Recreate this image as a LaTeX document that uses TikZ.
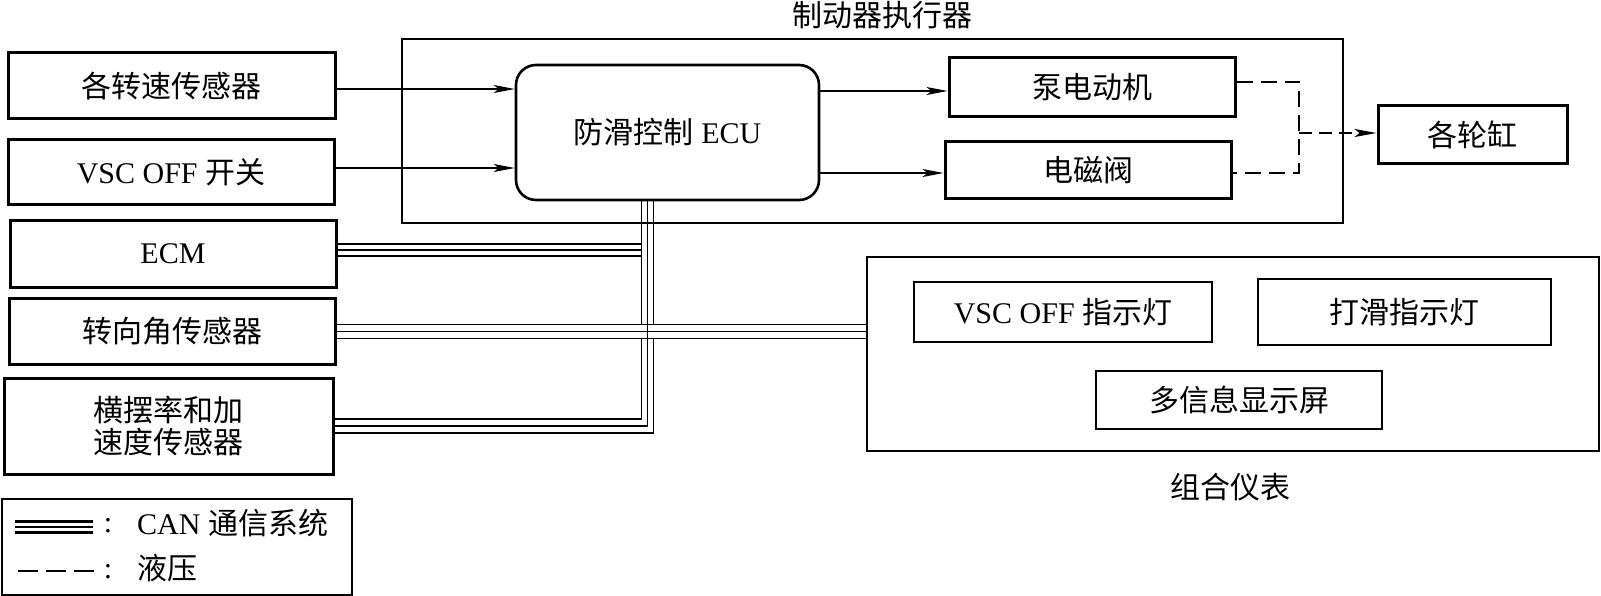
\documentclass[tikz,border=0pt]{standalone}
\usepackage{fontspec}
\setmainfont{Liberation Serif}
\newfontfamily\cjk{Noto Sans CJK SC}
\usetikzlibrary{arrows.meta,calc}
\newcommand\dfont{\fontsize{30}{32}\selectfont}
\begin{document}
\begin{tikzpicture}[x=1pt,y=-1pt,
  box/.style={draw, line width=3pt, rectangle, inner sep=0pt, font=\dfont, align=center},
  inbox/.style={draw, line width=2.6pt, rectangle, inner sep=0pt, font=\dfont},
  frame/.style={draw, line width=1.8pt, rectangle, inner sep=0pt},
  lbl/.style={font=\dfont, inner sep=0pt},
  can/.style={line width=1.8pt},
  arr/.style={line width=1.3pt, -{Stealth[length=21pt,width=8pt,inset=5pt]}},
  hyd/.style={line width=2pt, dash pattern=on 16pt off 8pt}]
\useasboundingbox (0,0) rectangle (1601,596);

% left column
\node[box, minimum width=327pt, minimum height=66pt] (s1) at (171.5,86) {{\cjk 各转速传感器}};
\node[box, minimum width=326pt, minimum height=65pt] (s2) at (171,172.5) {VSC OFF {\cjk 开关}};
\node[box, minimum width=326pt, minimum height=66pt] (ecm) at (173,254) {ECM};
\node[box, minimum width=326pt, minimum height=66pt] (steer) at (172,331.5) {{\cjk 转向角传感器}};
\node[box, minimum width=329pt, minimum height=96pt] (yaw) at (168.5,426) {{\cjk 横摆率和加}\\{\cjk 速度传感器}};

% actuator
\node[frame, minimum width=941pt, minimum height=184pt] (act) at (872.5,131) {};
\node[lbl] (actl) at (882,15) {{\cjk 制动器执行器}};
\node[draw, line width=2.6pt, rounded corners=20pt, inner sep=0pt, font=\dfont,
      minimum width=303pt, minimum height=135pt] (ecu) at (667.5,132.5) {{\cjk 防滑控制} ECU};
\node[box, minimum width=286pt, minimum height=59pt] (pump) at (1092,87.5) {{\cjk 泵电动机}};
\node[box, minimum width=286pt, minimum height=57pt] (valve) at (1088,170.5) {{\cjk 电磁阀}};
\node[box, minimum width=189pt, minimum height=58pt] (wheel) at (1472.5,135) {{\cjk 各轮缸}};

% cluster
\node[draw, line width=2.4pt, rectangle, inner sep=0pt, minimum width=732pt, minimum height=194pt] (cl) at (1233,354) {};
\node[lbl] (cll) at (1230,487) {{\cjk 组合仪表}};
\node[inbox, minimum width=298pt, minimum height=60pt] (vscl) at (1063,312) {VSC OFF {\cjk 指示灯}};
\node[inbox, minimum width=293pt, minimum height=66pt] (slip) at (1404.5,312) {{\cjk 打滑指示灯}};
\node[inbox, minimum width=286pt, minimum height=58pt] (mid) at (1239,400) {{\cjk 多信息显示屏}};

% signal arrows
\draw[arr] ([yshift=-3pt]s1.east) -- ([yshift=-3pt]s1.east -| ecu.west);
\draw[arr] ([yshift=4.5pt]s2.east) -- ([yshift=4.5pt]s2.east -| ecu.west);
\draw[arr] ([yshift=-3.5pt]pump.west -| ecu.east) -- ([yshift=-3.5pt]pump.west);
\draw[arr] ([yshift=-2.5pt]valve.west -| ecu.east) -- ([yshift=-2.5pt]valve.west);

% hydraulic
\coordinate (hj) at (1299,133);
\draw[hyd] ([yshift=5.5pt]pump.east) -| (hj) |- ([yshift=-2.5pt]valve.east);
\draw[hyd, dash pattern=on 13pt off 7pt, -{Stealth[length=22pt,width=8pt,inset=5pt]}] (hj) -- (hj -| wheel.west);

% CAN bus
\coordinate (busL) at ([xshift=-26pt]ecu.south);
\coordinate (busM) at ([xshift=-20pt]ecu.south);
\coordinate (busR) at ([xshift=-14pt]ecu.south);
% ECM
\draw[can] ([yshift=10pt]ecm.east) -- ([yshift=10pt]ecm.east -| busL);
\draw[can,line width=2.1pt] ([yshift=4pt]ecm.east) -- ([yshift=4pt]ecm.east -| busL);
\draw[can] ([yshift=-2pt]ecm.east) -- ([yshift=-2pt]ecm.east -| busL);
% steering -> cluster
\draw[can] ([yshift=7pt]steer.east) -- ([yshift=7pt]steer.east -| cl.west);
\draw[can] (steer.east) -- (steer.east -| cl.west);
\draw[can] ([yshift=-7pt]steer.east) -- ([yshift=-7pt]steer.east -| cl.west);
% verticals and yaw
\draw[can] (busL) -- ([yshift=7pt]steer.east -| busL);
\draw[can] ([yshift=-7pt]steer.east -| busL) -- ([yshift=7pt]yaw.east -| busL) -- ([yshift=7pt]yaw.east);
\draw[can] (busM) -- (yaw.east -| busM) -- (yaw.east);
\draw[can] (busR) -- ([yshift=7pt]steer.east -| busR);
\draw[can] ([yshift=-7pt]steer.east -| busR) -- ([yshift=-7pt]yaw.east -| busR) -- ([yshift=-7pt]yaw.east);

% legend
\node[draw, line width=2pt, rectangle, inner sep=0pt, minimum width=350pt, minimum height=96pt] (leg) at (177,546.5) {};
\draw[line width=2.8pt] (15,521.5) -- (93,521.5);
\draw[line width=2.8pt] (15,527) -- (93,527);
\draw[line width=2.8pt] (15,532.5) -- (93,532.5);
\draw[line width=1.3pt, dash pattern=on 20pt off 8pt] (18,571) -- (94,571);
\node[lbl] (c1) at (108,526) {:};
\node[lbl] (c2) at (108,572) {:};
\node[lbl, anchor=west] (lt1) at (137,523) {CAN {\cjk 通信系统}};
\node[lbl, anchor=west] (lt2) at (137,568) {{\cjk 液压}};
\end{tikzpicture}
\end{document}
